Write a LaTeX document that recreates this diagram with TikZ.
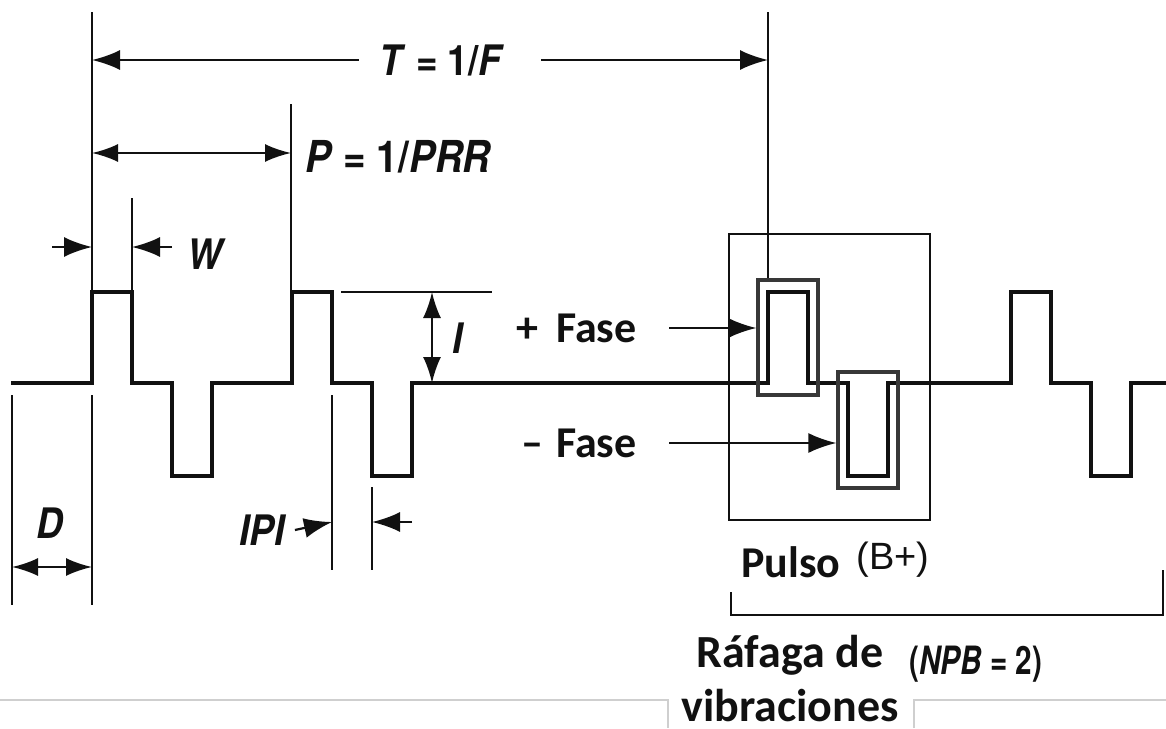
\documentclass[tikz,border=0pt]{standalone}
\usepackage{fontspec}
\setmainfont{TeX Gyre Heros}
\newfontfamily\narrowfont[FakeStretch=0.88]{TeX Gyre Heros}
\newfontfamily\condfont[FakeStretch=0.76]{TeX Gyre Heros}
\newfontfamily\labelfont{Carlito}
\newfontfamily\plainfont{Liberation Sans}
\usetikzlibrary{positioning, arrows.meta}
\definecolor{ink}{HTML}{111111}
\definecolor{boxgrey}{HTML}{383838}
\definecolor{pagerule}{HTML}{CFCFCF}

\begin{document}
\begin{tikzpicture}[
  x=0.5pt, y=-0.5pt,
  every node/.style={text=ink, inner sep=0pt},
  signal/.style={line width=1.9pt, draw=ink},
  guide/.style={line width=1pt, draw=ink},
  dimarrow/.style={
    -{Latex[length=14pt, width=10pt]},
    line width=1.1pt,
    draw=ink,
  },
  dimboth/.style={
    {Latex[length=13pt, width=9pt]}-{Latex[length=13pt, width=9pt]},
    line width=1.1pt,
    draw=ink,
  },
  quantity/.style={font=\narrowfont\fontsize{21}{25}\selectfont\bfseries},
  phaselabel/.style={font=\labelfont\fontsize{22}{28}\selectfont\bfseries},
  pulsebox/.style={draw=boxgrey, line width=1.6pt},
]
  \useasboundingbox (0,0) rectangle (1166,728);

  % waveform
  \draw[signal] (11,383)
    \foreach \s in {92,292,768,1011} {
      -- (\s,383) -- (\s,292) -- (\s+40,292) -- (\s+40,383)
      -- (\s+80,383) -- (\s+80,476) -- (\s+120,476) -- (\s+120,383)
    } -- (1166,383);

  % boxes round the burst pulses
  \node[pulsebox, minimum width=30pt, minimum height=57.5pt] (plusbox) at (788,337.5) {};
  \node[pulsebox, minimum width=30pt, minimum height=58pt] (minusbox) at (868,430) {};
  \node[draw=ink, line width=1.3pt, minimum width=100.5pt, minimum height=143pt] (pulseframe) at (829.5,377) {};

  % labels
  \node[quantity] (period) at (442,60) {\textit{T} = 1/\textit{F}};
  \node[quantity, anchor=west, font=\narrowfont\fontsize{22}{25}\selectfont\bfseries] (repeat) at (305,157) {\textit{P} = 1/\textit{PRR}};
  \node[quantity] (width) at (207,254) {\textit{W}};
  \node[quantity] (ampl) at (459,338) {\textit{I}};
  \node[quantity] (delay) at (50,523) {\textit{D}};
  \node[quantity] (gap) at (263,530) {\textit{IPI}};
  \node[phaselabel, anchor=east] (plusphase) at (637,328) {+\hspace{0.4em}Fase};
  \node[phaselabel, anchor=east] (minusphase) at (637,443) {–\hspace{0.3em}Fase};
  \node[phaselabel, anchor=base west] (pulse) at (741,577) {Pulso};
  \node[font=\plainfont\fontsize{19}{22}\selectfont, anchor=base east] (polarity) at (930,569) {(B+)};
  \node[phaselabel, align=center, font=\labelfont\fontsize{23}{27}\selectfont\bfseries] (burst) at (790,679) {Ráfaga de\\vibraciones};
  \node[font=\condfont\fontsize{19.5}{22}\selectfont\bfseries] (npb) at (976,664) {(\textit{NPB} = 2)};

  % dimension points
  \coordinate (tleft) at (92,60);
  \coordinate (tright) at (768,60);
  \coordinate (pleft) at (92,153);
  \coordinate (pright) at (291,153);
  \coordinate (wleft) at (92,247);
  \coordinate (wright) at (132,247);
  \coordinate (itop) at (432,292);
  \coordinate (ibase) at (432,383);
  \coordinate (dleft) at (12,567);
  \coordinate (dright) at (92,567);
  \coordinate (ipileft) at (332,522);
  \coordinate (ipiright) at (372,522);

  % extension lines
  \draw[guide] (92,12) -- (92,292);
  \draw[guide] (768,12) -- (tright |- plusbox.north);
  \draw[guide] (291,104) -- (291,292);
  \draw[guide] (132,198) -- (132,292);
  \draw[guide] (341,292) -- (492,292);
  \draw[guide] (12,395) -- (12,605);
  \draw[guide] (92,395) -- (92,605);
  \draw[guide] (332,395) -- (332,570);
  \draw[guide] (372,487) -- (372,570);

  % dimension arrows
  \draw[dimarrow] ([xshift=-10pt]period.west) -- (tleft);
  \draw[dimarrow] ([xshift=18pt]period.east) -- (tright);
  \draw[dimboth] (pleft) -- (pright);
  \draw[dimarrow] ([xshift=-20pt]wleft) -- (wleft);
  \draw[dimarrow] ([xshift=20pt]wright) -- (wright);
  \draw[dimboth] (itop) -- (ibase);
  \draw[dimboth] (dleft) -- (dright);
  \draw[dimarrow] ([xshift=4pt]gap.east) -- (ipileft);
  \draw[dimarrow] ([xshift=20pt]ipiright) -- (ipiright);
  \draw[dimarrow] ([xshift=16pt]plusphase.east) -- (plusbox.west |- plusphase.east);
  \draw[dimarrow] ([xshift=16pt]minusphase.east) -- (minusbox.west |- minusphase.east);

  % burst bracket
  \draw[guide] (731,592) -- (731,615) -- (1163,615) -- (1163,570);

  % page rules behind the caption
  \draw[pagerule, line width=0.8pt] (0,700) -- (668,700) -- (668,728);
  \draw[pagerule, line width=0.8pt] (914,728) -- (914,700) -- (1166,700);
\end{tikzpicture}
\end{document}
